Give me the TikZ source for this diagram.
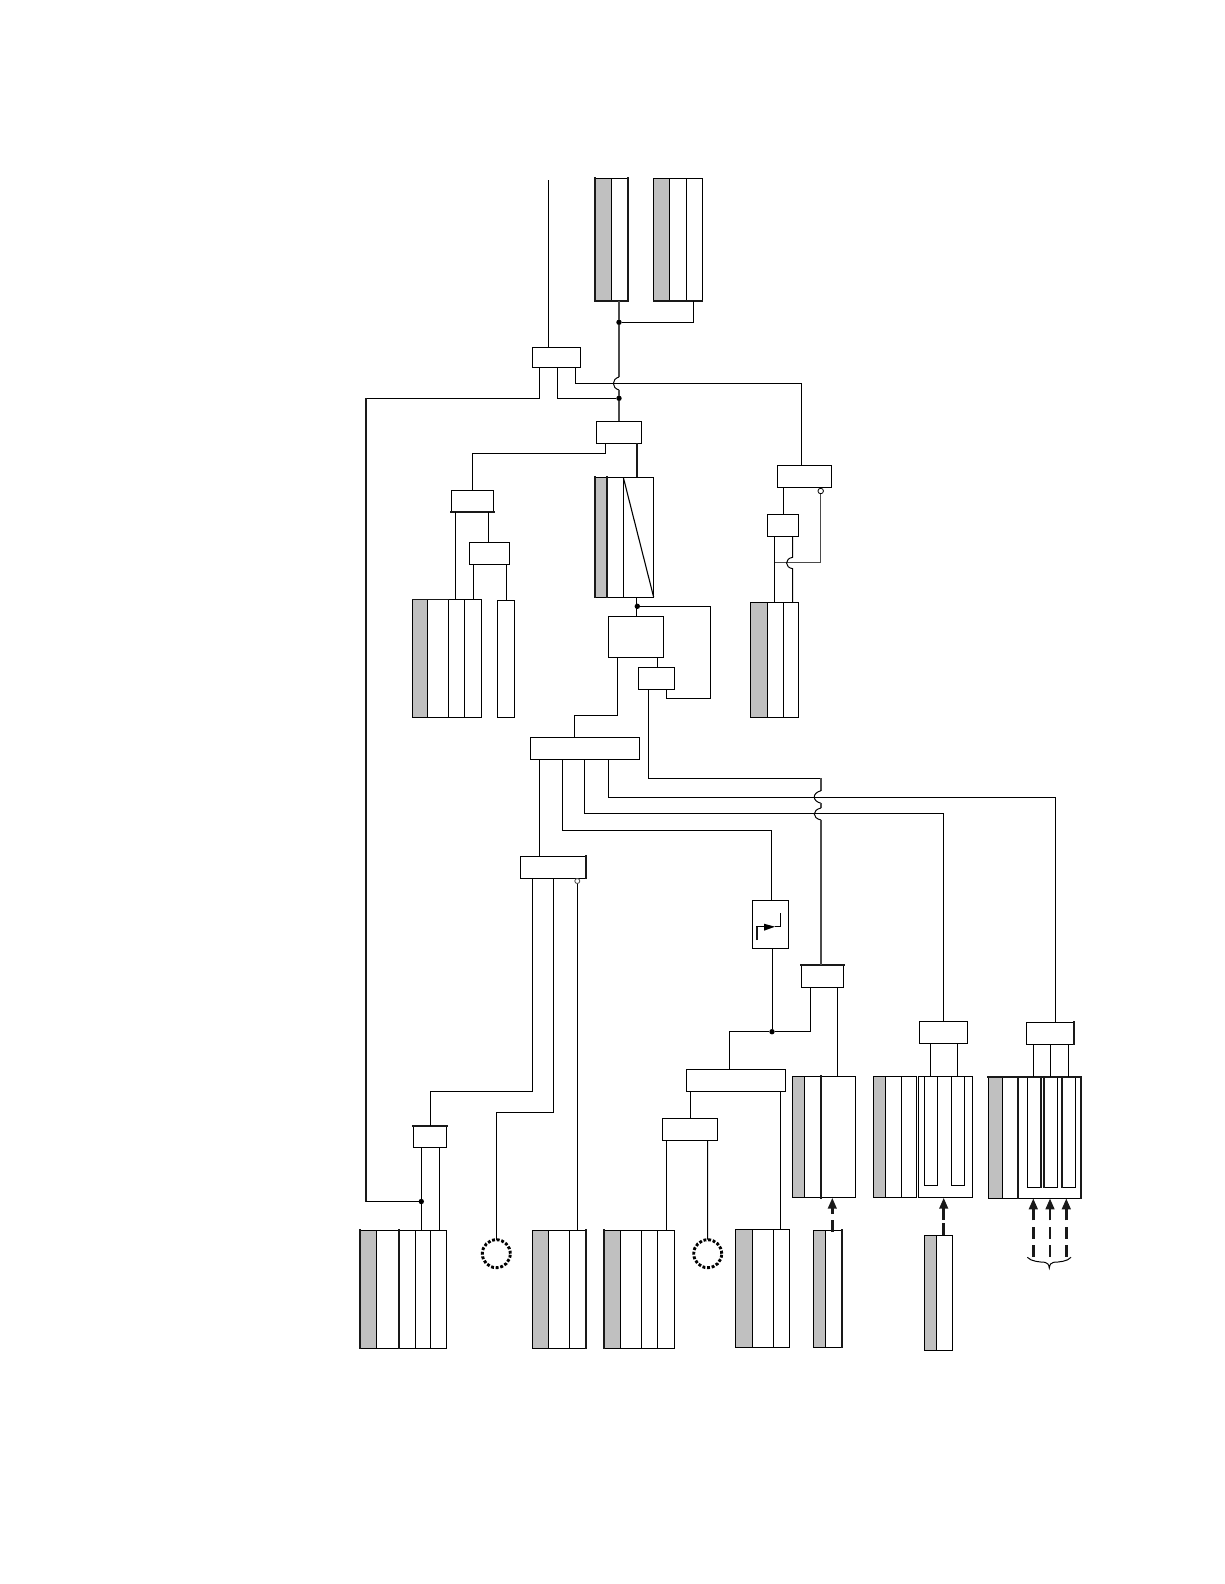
\documentclass[tikz,border=0pt]{standalone}
\usetikzlibrary{arrows.meta}
\definecolor{tablegray}{HTML}{C0C0C0}
\definecolor{darkwire}{HTML}{4A4A4A}
\newcommand\bx[5]{\node[boxn,minimum width={(#4-#2)*1pt},minimum height={(#5-#3)*1pt}] (#1) at ({(#2+#4)/2},{(#3+#5)/2}) {};}
\newcommand\tb[7]{%
  \fill[tablegray] (#2,#3) rectangle (#6,#5);
  \bx{#1}{#2}{#3}{#4}{#5}
  \foreach \d in {#7} {\draw[wire] (\d,#3) -- (\d,#5);}
}
\tikzset{
  boxn/.style={draw=black,line width=1pt,inner sep=0pt,outer sep=0pt,fill=none},
  wire/.style={draw=black,line width=1pt,line join=miter},
  heavy/.style={draw=black!90,line width=2pt,line cap=rect},
  greywire/.style={draw=darkwire,line width=1.8pt},
  dotn/.style={circle,fill=black,draw=none,inner sep=0pt,outer sep=0pt,minimum size=5.4pt},
  opencirc/.style={circle,fill=white,draw=black,line width=0.8pt,inner sep=0pt,outer sep=0pt,minimum size=5.5pt},
  beadring/.style={circle,draw=black,fill=none,inner sep=0pt,outer sep=0pt,minimum size=28pt,line width=2.9pt,dash pattern=on 2.9pt off 1.75pt},
  inarrow/.style={draw=black!90,line width=2.6pt,dash pattern=on 11.7pt off 6.5pt,-{Triangle[length=11pt,width=8.5pt]}},
}
\begin{document}
\begin{tikzpicture}[x=1pt,y=-1pt]
\useasboundingbox (0,0) rectangle (1224,1584);

% tables
\tb{tA}{594.7}{178.3}{628.3}{301}{611.3}{611.3}
\tb{tB}{653.7}{178.3}{702.3}{301}{669.7}{669.7,686.3}
\tb{tC}{595}{477.3}{653.7}{597.3}{607}{607,623.3}
\tb{tD}{412.3}{599.3}{481.7}{717.3}{427.7}{427.7,448.3,464.3}
\bx{tE}{497.3}{600.3}{514.7}{717.3}
\tb{tP}{750.7}{602.3}{798.7}{717.3}{767.3}{767.3,783.3}
\tb{tF}{792.3}{1076.3}{855.7}{1197.7}{804.3}{804.3,821}
\tb{tG}{873.3}{1076.3}{916.7}{1197.7}{885.3}{885.3,901.7}
\bx{tH}{918.3}{1076.3}{972.7}{1197.7}
\bx{sH1}{924.3}{1076.3}{937.7}{1185.3}
\bx{sH2}{951.3}{1076.3}{964.7}{1185.3}
\tb{tI}{988.3}{1077.3}{1080.7}{1198.3}{1002.3}{1002.3,1018.3}
\bx{sI1}{1027.3}{1077.3}{1040.7}{1187.3}
\bx{sI2}{1043.7}{1077.3}{1057.7}{1187.3}
\bx{sI3}{1061.7}{1077.3}{1075.7}{1187.3}
\tb{tJ}{813.7}{1230.3}{842.3}{1347.3}{825.7}{825.7}
\tb{tK}{924.7}{1235.3}{952.3}{1350.3}{936.7}{936.7}
\tb{tL}{360}{1230.3}{446.7}{1348.3}{376.3}{376.3,399,415.3,430.7}
\tb{tM}{532.7}{1230.3}{586}{1348.3}{548.7}{548.7,569.3}
\tb{tN}{604}{1230.3}{674.7}{1348.3}{620.7}{620.7,641.3,657.3}
\tb{tO}{735.7}{1229.3}{789.3}{1347.3}{752.3}{752.3,773.3}

% heavy edges of the tables
\draw[heavy] (tA.north west) -- (tA.south west) -- (tA.south east) -- (tA.north east);
\draw[heavy,line width=1.5pt] (tB.south west) -- (tB.south east);
\draw[heavy] (tC.north west) -- (tC.south west);
\draw[heavy] (607,0 |- tC.north) -- (607,0 |- tC.south);
\draw[wire,line width=1.1pt] (623.3,0 |- tC.north) -- (tC.south east);
\draw[heavy,line width=1.5pt] (tD.north west) -- (448.3,0 |- tD.north);
\draw[heavy] (821,0 |- tF.north) -- (821,0 |- tF.south);
\draw[heavy] (tI.north west) -- (tI.north east) -- (tI.south east);
\draw[heavy] (1018.3,0 |- tI.north) -- (1018.3,0 |- tI.south);
\draw[heavy,line width=1.6pt] (1040.7,0 |- sI1.north) -- (1040.7,0 |- sI1.south);
\draw[heavy,line width=1.6pt] (1043.7,0 |- sI2.north) -- (1043.7,0 |- sI2.south);
\draw[heavy,line width=1.6pt] (1061.7,0 |- sI3.north) -- (1061.7,0 |- sI3.south);
\draw[heavy] (tJ.north east) -- (tJ.south east);
\draw[heavy] (tL.north west) -- (tL.south west);
\draw[heavy] (399,0 |- tL.north) -- (399,0 |- tL.south);
\draw[heavy] (tM.north east) -- (tM.south east);
\draw[heavy] (tN.north west) -- (tN.south west);

% boxes
\bx{b1}{532.3}{347.3}{580.7}{367.3}
\bx{b2}{596.3}{421.3}{641.3}{443.3}
\bx{b3}{451.3}{490.3}{493.7}{512}
\bx{b4}{469.3}{542.3}{509.7}{564.7}
\bx{b5}{608.3}{616.3}{663.7}{657.7}
\bx{b6}{638.3}{667.3}{674.7}{689.3}
\bx{b7}{530.3}{737.3}{639.7}{759.3}
\bx{b8}{520.3}{856.3}{586.3}{878.3}
\bx{b9}{801.3}{965.3}{843.7}{987.7}
\bx{b10}{686.3}{1069.3}{785.7}{1091.7}
\bx{b11}{662.3}{1118.3}{717.7}{1140.7}
\bx{b12}{919.3}{1021.3}{967.7}{1043.3}
\bx{b13}{1026.3}{1022.3}{1074.3}{1044.3}
\bx{b14}{413.3}{1125.7}{446.7}{1147.7}
\bx{b15}{777.3}{465.3}{831.7}{487.3}
\bx{b16}{767.3}{514.3}{798.7}{536.3}
\bx{sw}{752.3}{900.3}{788.7}{948.7}
\draw[heavy,line width=1.8pt] (b3.south west) -- (b3.south east);
\draw[heavy,line width=1.8pt] (b8.north east) -- (b8.south east);
\draw[heavy,line width=1.8pt] (b9.north west) -- (b9.north east);
\draw[heavy,line width=1.8pt] (b13.north east) -- (b13.south east);
\draw[heavy,line width=1.8pt] (b14.north west) -- (b14.north east);

% junction dots, rings, free ends
\node[dotn] (d1) at (619,322.3) {};
\node[dotn] (d2) at (619,398.3) {};
\node[dotn] (d3) at (637.3,606.3) {};
\node[dotn] (d4) at (772,1031.7) {};
\node[dotn] (d5) at (421.3,1201.5) {};
\node[opencirc] (oc1) at (820.7,491) {};
\node[opencirc,draw=darkwire,minimum size=5pt] (oc2) at (577.3,881) {};
\node[beadring] (r1) at (496.3,1253.7) {};
\node[beadring] (r2) at (707.7,1253.7) {};
\coordinate (topin) at (548.3,180);
\coordinate (ar3a) at (1033.3,1256.7);
\coordinate (ar3b) at (1050,1256.7);
\coordinate (ar3c) at (1066.3,1256.7);
\coordinate (elb1) at (366,398.3);
\coordinate (elb2) at (366,1201.5);

% connectors: top
\draw[wire] (topin) -- (548.3,0 |- b1.north);
\draw[greywire] (619,0 |- tA.south) -- (d1) -- (619,377);
\draw[wire] (619,377) .. controls (611.5,379) and (611.5,388) .. (619,390);
\draw[greywire] (619,390) -- (d2) -- (619,0 |- b2.north);
\draw[wire] (d1) -| (693.3,0 |- tB.south);
\draw[wire] (539.7,0 |- b1.south) |- (elb1);
\draw[heavy,line width=2pt,line cap=butt] (elb1) -- (elb2);
\draw[wire] (elb2) -- (d5);
\draw[wire] (557.3,0 |- b1.south) |- (d2);
\draw[wire] (575.3,0 |- b1.south) |- (801.3,383.3) -- (801.3,0 |- b15.north);
\draw[wire] (605.7,0 |- b2.south) |- (472.3,453.7) -- (472.3,0 |- b3.north);
\draw[heavy,line cap=butt] (637,0 |- b2.south) -- (637,0 |- tC.north);

% left group
\draw[wire] (455.3,0 |- b3.south) -- (455.3,0 |- tD.north);
\draw[wire] (488.7,0 |- b3.south) -- (488.7,0 |- b4.north);
\draw[wire] (473.3,0 |- b4.south) -- (473.3,0 |- tD.north);
\draw[wire] (506.7,0 |- b4.south) -- (506.7,0 |- tE.north);

% centre group
\draw[wire] (636.7,0 |- tC.south) -- (636.7,0 |- b5.north);
\draw[wire] (d3) -| (710.7,698.3) -| (666.3,0 |- b6.south);
\draw[wire] (657.3,0 |- b5.south) -- (657.3,0 |- b6.north);
\draw[wire] (617.7,0 |- b5.south) |- (574.3,715.3) -- (574.3,0 |- b7.north);
\draw[wire] (648.3,0 |- b6.south) |- (821,778.3);
\draw[greywire] (821,778.3) -- (821,790.7);
\draw[wire] (821,790.7) .. controls (812,793) and (812,801) .. (821,803.3);
\draw[greywire] (821,803.3) -- (821,808);
\draw[wire] (821,808) .. controls (812,810) and (812,818) .. (821,820);
\draw[greywire] (821,820) -- (821,0 |- b9.north);

% right top group
\draw[wire] (783.3,0 |- b15.south) -- (783.3,0 |- b16.north);
\draw[greywire,line width=1.3pt] (oc1) |- (774.7,562.7);
\draw[wire] (774.7,0 |- b16.south) -- (774.7,0 |- tP.north);
\draw[wire] (792.7,0 |- b16.south) -- (792.7,557.3) .. controls (784.5,558.5) and (784.5,567.5) .. (792.7,568.7) -- (792.7,0 |- tP.north);

% distribution from b7
\draw[wire] (539.3,0 |- b7.south) -- (539.3,0 |- b8.north);
\draw[wire] (562.3,0 |- b7.south) |- (771.3,830.3) -- (771.3,0 |- sw.north);
\draw[wire] (584.3,0 |- b7.south) |- (943.3,813.3) -- (943.3,0 |- b12.north);
\draw[wire] (608.3,0 |- b7.south) |- (1055.7,797.3) -- (1055.7,0 |- b13.north);

% b8 outlets
\draw[wire] (532.5,0 |- b8.south) |- (430.3,1091.3) -- (430.3,0 |- b14.north);
\draw[wire] (553.3,0 |- b8.south) |- (496.3,1112.3) -- (r1);
\draw[wire] (oc2) -- (577.3,0 |- tM.north);
\draw[wire] (421.3,0 |- b14.south) -- (d5) -- (421.3,0 |- tL.north);
\draw[wire] (439.3,0 |- b14.south) -- (439.3,0 |- tL.north);

% switch symbol
\draw[wire] (772,0 |- sw.south) -- (d4);
\draw[heavy,line width=1.9pt,line cap=butt] (757.3,940) -- (757.3,926.7);
\draw[wire,line width=1.4pt] (756.4,926.7) -- (765,926.7);
\draw[wire] (775,926.7) -- (780.7,926.7) -- (780.7,913.3);
\fill[black] (775,926.7) -- (764,923.7) -- (764,930.7) -- cycle;

% lower right
\draw[wire] (d4) -| (729.3,0 |- b10.north);
\draw[wire] (d4) -| (810.3,0 |- b9.south);
\draw[wire] (837.3,0 |- b9.south) -- (837.3,0 |- tF.north);
\draw[wire] (690.3,0 |- b10.south) -- (690.3,0 |- b11.north);
\draw[wire] (780.3,0 |- b10.south) -- (780.3,0 |- tO.north);
\draw[wire] (666.3,0 |- b11.south) -- (666.3,0 |- tN.north);
\draw[wire] (707.5,0 |- b11.south) -- (r2);
\draw[wire] (930.3,0 |- b12.south) -- (930.3,0 |- tH.north);
\draw[wire] (957.3,0 |- b12.south) -- (957.3,0 |- tH.north);
\draw[wire] (1033.3,0 |- b13.south) -- (1033.3,0 |- tI.north);
\draw[wire] (1050.3,0 |- b13.south) -- (1050.3,0 |- tI.north);
\draw[wire] (1068.3,0 |- b13.south) -- (1068.3,0 |- tI.north);

% arrows
\draw[inarrow] (832.3,0 |- tJ.north) ++(0,1.4) -- (832.3,0 |- tF.south);
\draw[inarrow,dash pattern=on 12pt off 3.5pt] (943.7,0 |- tK.north) -- (943.7,0 |- tH.south);
\draw[inarrow] (ar3a) -- (1033.3,0 |- tI.south);
\draw[inarrow] (ar3b) -- (1050,0 |- tI.south);
\draw[inarrow] (ar3c) -- (1066.3,0 |- tI.south);

% brace
\draw[wire] (1027.3,1257.3) .. controls (1031,1261.5) and (1040,1262) .. (1045,1262.3) .. controls (1047.5,1262.6) and (1048.8,1264.5) .. (1049.3,1268) .. controls (1049.8,1264.5) and (1051,1262.6) .. (1053.5,1262.3) .. controls (1059,1262) and (1067.5,1261.5) .. (1071,1257.3);
\end{tikzpicture}
\end{document}
